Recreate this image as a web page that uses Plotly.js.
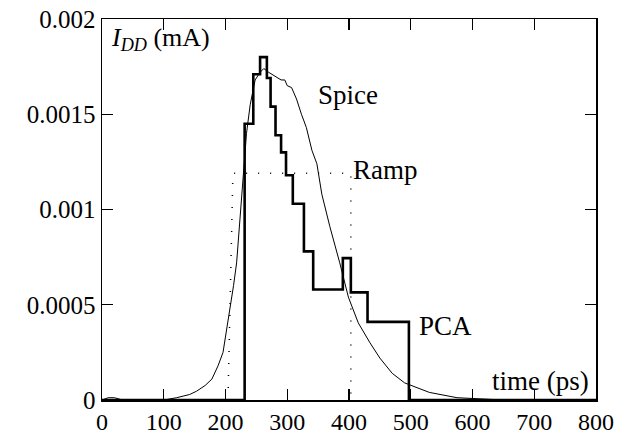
<!DOCTYPE html>
<html>
<head>
<meta charset="utf-8">
<script src="https://cdn.plot.ly/plotly-3.0.1.min.js"></script>
<style>html,body{margin:0;padding:0;background:#fff;}#chart{width:625px;height:437px;}</style>
</head>
<body>
<div id="chart"></div>
<script>
// Spice simulation current (time in ps, current in mA)
const spiceT = [0, 5, 10, 20, 30, 40, 100, 121, 142, 153, 160, 167, 178, 188, 196, 202, 207, 213, 218, 224, 229, 234, 240, 248, 256, 262, 270, 280, 290, 296, 300, 307, 315, 323, 331, 340, 348, 356, 369, 385, 399, 415, 434, 450, 470, 490, 530, 575, 620, 650, 800];
const spiceV = [0, 0.000005, 0.000012, 0.000012, 0.000003, 0, 0, 0.000012, 0.000029, 0.000046, 0.00006, 0.000076, 0.00011, 0.00018, 0.00025, 0.00037, 0.00046, 0.0006, 0.00072, 0.00098, 0.00122, 0.0014, 0.00155, 0.00168, 0.00172, 0.00174, 0.00172, 0.0017, 0.00168, 0.00168, 0.00165, 0.00164, 0.00158, 0.0015, 0.00143, 0.00131, 0.00124, 0.00108, 0.00091, 0.00072, 0.00054, 0.000405, 0.0003, 0.00022, 0.00014, 0.00009, 0.00004, 0.000012, 0.000003, 0, 0];

// PCA estimate (step function)
const pcaT = [0, 231, 245, 256, 267, 273, 281, 290, 298, 309, 327, 342, 390, 403, 430, 497, 800];
const pcaV = [0, 0.00145, 0.00171, 0.0018, 0.00169, 0.00154, 0.00139, 0.0013, 0.00118, 0.00103, 0.00078, 0.00058, 0.000745, 0.000565, 0.00041, 0, 0];

// Ramp approximation
const rampT = [204, 212, 403, 403];
const rampV = [0, 0.00119, 0.00119, 0];

const yTickVals = [0, 0.0005, 0.001, 0.0015, 0.002];
const yTickText = ["0", "0.0005", "0.001", "0.0015", "0.002"];
const xTickVals = [0, 100, 200, 300, 400, 500, 600, 700, 800];
const xTickText = ["0", "100", "200", "300", "400", "500", "600", "700", "800"];

const FONT = "Liberation Serif, Times New Roman, serif";

const traces = [
  {x: rampT, y: rampV, mode: "lines", line: {color: "#000", width: 1.5, dash: "1px,11px"}, hoverinfo: "skip"},
  {x: spiceT, y: spiceV, mode: "lines", line: {color: "#000", width: 1}, hoverinfo: "skip"},
  {x: pcaT, y: pcaV, mode: "lines", line: {color: "#000", width: 2.6, shape: "hv"}, hoverinfo: "skip"}
];

const axisCommon = {
  showline: true, linecolor: "#000", linewidth: 1.5, mirror: "ticks",
  ticks: "inside", ticklen: 11, tickwidth: 1.2, tickcolor: "#000",
  showgrid: false, zeroline: false, tickmode: "array"
};

const layout = {
  width: 625, height: 437,
  margin: {l: 102, r: 29, t: 19, b: 37, pad: 0},
  paper_bgcolor: "#fff", plot_bgcolor: "#fff",
  showlegend: false,
  xaxis: Object.assign({}, axisCommon, {range: [0, 800], tickvals: xTickVals, ticktext: xTickText,
    tickfont: {family: FONT, size: 24, color: "#000"}}),
  yaxis: Object.assign({}, axisCommon, {range: [0, 0.002], tickvals: yTickVals, ticktext: yTickText,
    tickfont: {family: FONT, size: 25, color: "#000"}}),
  font: {family: FONT, size: 25, color: "#000"},
  annotations: [
    {text: "<i>I</i><sub><i>DD</i></sub> (mA)", x: 0.015, y: 0.995, xref: "paper", yref: "paper", xanchor: "left", yanchor: "top", showarrow: false, font: {family: FONT, size: 26}},
    {text: "Spice", x: 398, y: 0.0016, xref: "x", yref: "y", xanchor: "center", yanchor: "middle", showarrow: false, font: {family: FONT, size: 27}},
    {text: "Ramp", x: 404, y: 0.00121, xref: "x", yref: "y", xanchor: "left", yanchor: "middle", showarrow: false, font: {family: FONT, size: 27}},
    {text: "PCA", x: 510, y: 0.00039, xref: "x", yref: "y", xanchor: "left", yanchor: "middle", showarrow: false, font: {family: FONT, size: 27}},
    {text: "time (ps)", x: 0.99, y: 0.0001, xref: "paper", yref: "y", xanchor: "right", yanchor: "middle", showarrow: false, font: {family: FONT, size: 27}}
  ]
};

Plotly.newPlot("chart", traces, layout, {staticPlot: true, displayModeBar: false});
</script>
</body>
</html>
